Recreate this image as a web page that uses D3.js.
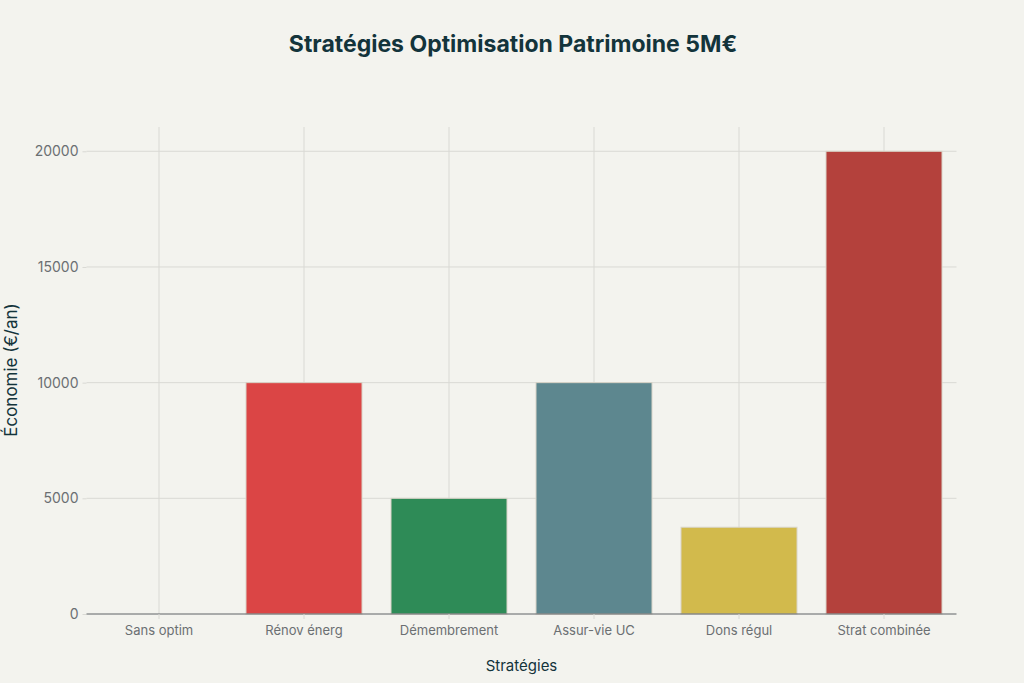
<!DOCTYPE html>
<html><head><meta charset="utf-8">
<script src="https://cdn.jsdelivr.net/npm/d3@7"></script>
<style>body{margin:0;background:#f3f3ee;}svg{display:block;font-family:Inter,"Noto Sans",sans-serif;}</style>
</head><body><div id="chart"></div>
<script>
const categories = ["Sans optim","Rénov énerg","Démembrement","Assur-vie UC","Dons régul","Strat combinée"];
const values = [0,10000,5000,10000,3750,20000];
const colors = ["#1FB8CD","#DB4545","#2E8B57","#5D878F","#D2BA4C","#B4413C"];
const yTicks = [0,5000,10000,15000,20000];
const title = "Stratégies Optimisation Patrimoine 5M€";
const xTitle = "Stratégies", yTitle = "Économie (€/an)";

const W=1024,H=683, m={l:86.5,r:67.5,t:127,b:69};
const svg=d3.select("#chart").append("svg").attr("width",W).attr("height",H);
svg.append("rect").attr("width",W).attr("height",H).attr("fill","#f3f3ee");
const x=d3.scaleBand().domain(categories).range([m.l,W-m.r]).paddingInner(0.2).paddingOuter(0.1);
const y=d3.scaleLinear().domain([0,21050]).range([H-m.b,m.t]);

// grid
svg.append("g").selectAll("line").data(yTicks.slice(1)).join("line")
 .attr("x1",m.l).attr("x2",W-m.r).attr("y1",d=>y(d)).attr("y2",d=>y(d))
 .attr("stroke","#d9d9d4").attr("stroke-width",1);
svg.append("g").selectAll("line").data(categories).join("line")
 .attr("x1",d=>x(d)+x.bandwidth()/2).attr("x2",d=>x(d)+x.bandwidth()/2)
 .attr("y1",m.t).attr("y2",H-m.b).attr("stroke","#d9d9d4").attr("stroke-width",1);

// bars
svg.append("g").selectAll("rect").data(values).join("rect")
 .attr("x",(d,i)=>x(categories[i])).attr("width",x.bandwidth())
 .attr("y",d=>y(d)).attr("height",d=>y(0)-y(d))
 .attr("fill",(d,i)=>colors[i]).attr("stroke","#d9d4c8").attr("stroke-width",1);

// axes
const ya=svg.append("g").attr("transform",`translate(${m.l},0)`)
 .call(d3.axisLeft(y).tickValues(yTicks).tickSize(4).tickPadding(4).tickFormat(d3.format("d")));
ya.select(".domain").remove();
ya.selectAll("line").attr("stroke","#d9d9d4");
ya.selectAll("text").attr("fill","#6b6f72").attr("font-size",14).attr("font-family","Inter,sans-serif");

const xa=svg.append("g").attr("transform",`translate(0,${H-m.b})`)
 .call(d3.axisBottom(x).tickSize(5).tickPadding(7));
xa.select(".domain").attr("d",`M${m.l},0H${W-m.r}`).attr("stroke","#5f6366");
xa.selectAll("line").attr("stroke","#d9d9d4");
xa.selectAll("text").attr("fill","#6b6f72").attr("font-size",13).attr("font-family","Inter,sans-serif");

svg.append("text").attr("x",513).attr("y",52).attr("text-anchor","middle")
 .attr("font-size",23).attr("font-weight","bold").attr("fill","#13343b").text(title);
svg.append("text").attr("x",(m.l+W-m.r)/2).attr("y",671).attr("text-anchor","middle")
 .attr("font-size",15).attr("fill","#13343b").text(xTitle);
svg.append("text").attr("transform",`translate(17,370) rotate(-90)`).attr("text-anchor","middle")
 .attr("font-size",17).attr("fill","#13343b").text(yTitle);
</script></body></html>
